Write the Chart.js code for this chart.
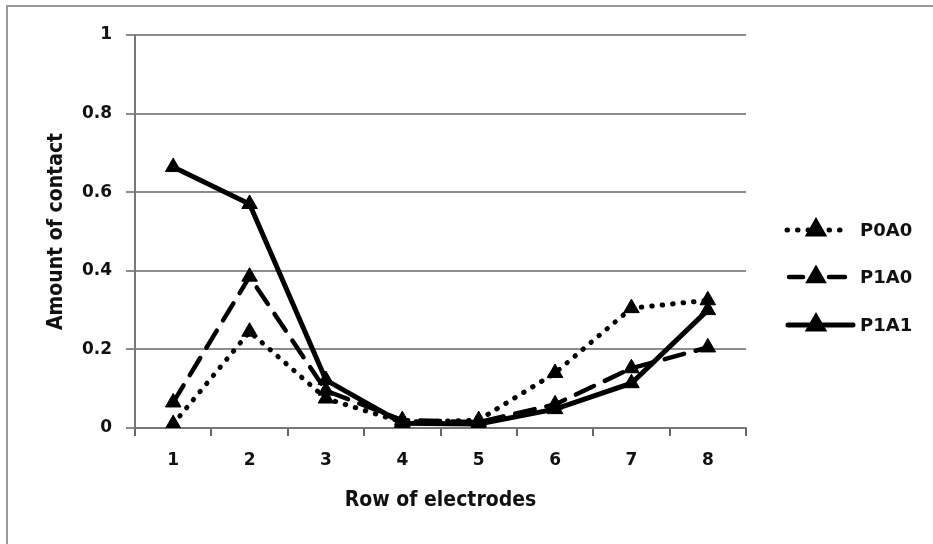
<!DOCTYPE html>
<html>
<head>
<meta charset="utf-8">
<script src="https://cdn.jsdelivr.net/npm/chart.js@4/dist/chart.umd.min.js"></script>
<style>
  html, body { margin: 0; padding: 0; background: #fff; }
  #wrap { width: 933px; height: 544px; position: relative; }
</style>
</head>
<body>
<div id="wrap"><canvas id="c" width="933" height="544"></canvas></div>
<script>
const categories = ['1', '2', '3', '4', '5', '6', '7', '8'];
const seriesNames = ['P0A0', 'P1A0', 'P1A1'];
const p0a0 = [0.01, 0.245, 0.075, 0.015, 0.02, 0.14, 0.305, 0.325];
const p1a0 = [0.065, 0.385, 0.095, 0.02, 0.015, 0.06, 0.152, 0.205];
const p1a1 = [0.664, 0.57, 0.122, 0.012, 0.01, 0.048, 0.114, 0.30];
const yTicks = [0, 0.2, 0.4, 0.6, 0.8, 1];
const xTitle = 'Row of electrodes';
const yTitle = 'Amount of contact';

const tickFont = { family: 'DejaVu Sans', weight: 'bold', size: 17 };
const titleFont = { family: 'DejaVu Sans Condensed, DejaVu Sans', weight: 'bold', size: 21 };
const gridColor = '#8c8c8c';

const styles = [
  { borderDash: [0.5, 10], borderWidth: 5, legendSegs: [[787, 846]], legendDash: [0.5, 10] },
  { borderDash: [20, 12], borderWidth: 4.5, legendSegs: [[789, 803], [829, 845]], legendDash: [] },
  { borderDash: [], borderWidth: 5, legendSegs: [[788, 853]], legendDash: [] }
];
const values = [p0a0, p1a0, p1a1];

const datasets = seriesNames.map((name, i) => ({
  label: name,
  data: values[i],
  borderColor: '#000',
  backgroundColor: '#000',
  borderWidth: styles[i].borderWidth,
  borderDash: styles[i].borderDash,
  borderCapStyle: 'round',
  borderJoinStyle: 'miter',
  pointStyle: 'triangle',
  pointRadius: 9,
  pointBorderWidth: 1,
  pointBackgroundColor: '#000',
  pointBorderColor: '#000',
  tension: 0,
  fill: false
}));

const frame = {
  id: 'frame',
  beforeDraw(chart) {
    const ctx = chart.ctx;
    ctx.save();
    ctx.fillStyle = '#fff';
    ctx.fillRect(0, 0, chart.width, chart.height);
    ctx.strokeStyle = '#9a9a9a';
    ctx.lineWidth = 2;
    ctx.strokeRect(7, 6, chart.width + 20, chart.height + 20);
    ctx.restore();
  }
};

const sideLegend = {
  id: 'sideLegend',
  afterDraw(chart) {
    const ctx = chart.ctx;
    const ys = [230, 277, 325];
    ctx.save();
    chart.data.datasets.forEach((ds, i) => {
      const y = ys[i];
      ctx.strokeStyle = '#000';
      ctx.lineWidth = ds.borderWidth;
      ctx.lineCap = 'round';
      ctx.setLineDash(styles[i].legendDash);
      styles[i].legendSegs.forEach(([a, b]) => {
        ctx.beginPath();
        ctx.moveTo(a, y);
        ctx.lineTo(b, y);
        ctx.stroke();
      });
      ctx.setLineDash([]);
      Chart.helpers.drawPoint(ctx, { pointStyle: 'triangle', radius: 8, borderWidth: 1 }, 816, y);
      ctx.fillStyle = '#000';
      ctx.fill();
      ctx.fillStyle = '#111';
      ctx.font = 'bold 18px "DejaVu Sans"';
      ctx.textBaseline = 'middle';
      ctx.textAlign = 'left';
      ctx.fillText(ds.label, 860, y + 1);
    });
    ctx.restore();
  }
};

new Chart(document.getElementById('c'), {
  type: 'line',
  data: { labels: categories, datasets },
  options: {
    responsive: false,
    animation: false,
    layout: { padding: { top: 35, right: 187, bottom: 0, left: 0 } },
    plugins: { legend: { display: false }, tooltip: { enabled: false } },
    scales: {
      x: {
        type: 'category',
        offset: true,
        afterFit(scale) { scale.height = 116; },
        grid: { drawOnChartArea: false, drawTicks: true, tickLength: 8, offset: true, color: '#666', lineWidth: 2 },
        border: { display: true, color: '#777', width: 2 },
        ticks: { color: '#111', font: tickFont, padding: 14, maxRotation: 0 },
        title: { display: true, text: xTitle, color: '#111', font: titleFont, padding: { top: 0, bottom: 31 } }
      },
      y: {
        min: 0,
        max: 1,
        afterFit(scale) { scale.width = 135; },
        afterBuildTicks(scale) { scale.ticks = yTicks.map(v => ({ value: v })); },
        grid: { color: gridColor, lineWidth: 2, tickLength: 9, drawTicks: true },
        border: { display: true, color: '#777', width: 2 },
        ticks: { color: '#111', font: tickFont, padding: 14, callback: v => String(v) },
        title: { display: true, text: yTitle, color: '#111', font: titleFont, padding: { top: 44, bottom: 0 } }
      }
    }
  },
  plugins: [frame, sideLegend]
});
</script>
</body>
</html>
